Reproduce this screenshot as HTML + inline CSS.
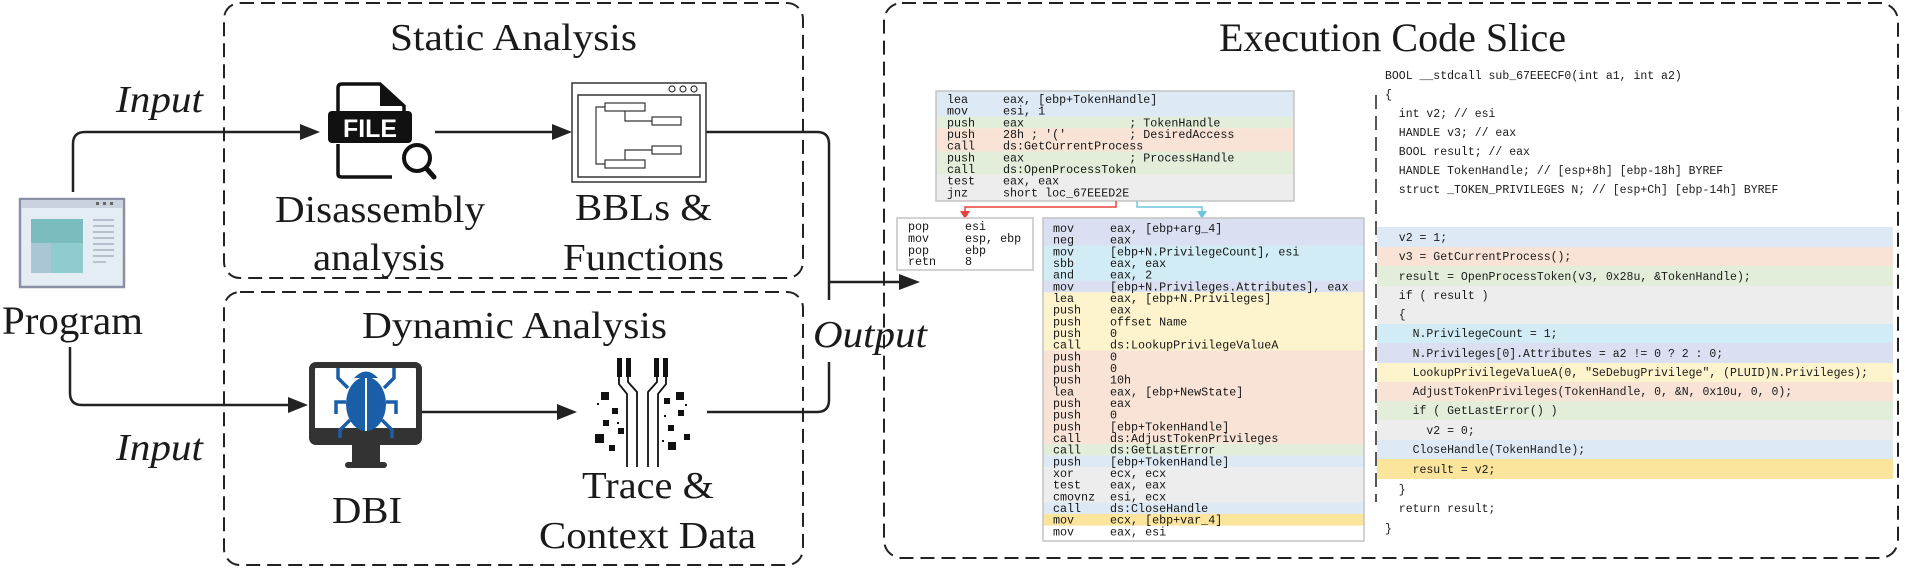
<!DOCTYPE html>
<html><head><meta charset="utf-8"><style>
html,body{margin:0;padding:0;background:#fff;}
svg{display:block;}
.s{font-family:"Liberation Serif",serif;fill:#1a1a1a;}
.m{font-family:"Liberation Mono",monospace;font-size:11.7px;fill:#151515;white-space:pre;}
.p{font-family:"Liberation Mono",monospace;font-size:11.5px;fill:#1a1a1a;white-space:pre;}
.m text,.p text{white-space:pre;}
</style></head><body>
<svg width="1906" height="571" viewBox="0 0 1906 571" xmlns="http://www.w3.org/2000/svg">
<g fill="none" stroke="#222" stroke-width="2" stroke-dasharray="14 7">
<rect x="224" y="3" width="579" height="275" rx="16"/>
<rect x="224" y="292" width="579" height="273" rx="16"/>
<rect x="884" y="3" width="1014" height="555" rx="18"/>
<line x1="1376" y1="95" x2="1376" y2="502" stroke-width="1.5"/>
</g>

<text class="s" x="390" y="50" font-size="38" textLength="247" lengthAdjust="spacingAndGlyphs">Static Analysis</text>
<text class="s" x="362" y="338" font-size="38" textLength="305" lengthAdjust="spacingAndGlyphs">Dynamic Analysis</text>
<text class="s" x="1219" y="51" font-size="40" textLength="347" lengthAdjust="spacingAndGlyphs">Execution Code Slice</text>

<text class="s" x="275" y="222" font-size="38" textLength="210" lengthAdjust="spacingAndGlyphs">Disassembly</text>
<text class="s" x="313" y="270" font-size="38" textLength="132" lengthAdjust="spacingAndGlyphs">analysis</text>
<text class="s" x="575" y="220" font-size="38" textLength="137" lengthAdjust="spacingAndGlyphs">BBLs &amp;</text>
<text class="s" x="563" y="270" font-size="38" textLength="161" lengthAdjust="spacingAndGlyphs">Functions</text>
<text class="s" x="332" y="523" font-size="38" textLength="70" lengthAdjust="spacingAndGlyphs">DBI</text>
<text class="s" x="582" y="498" font-size="38" textLength="132" lengthAdjust="spacingAndGlyphs">Trace &amp;</text>
<text class="s" x="539" y="548" font-size="38" textLength="217" lengthAdjust="spacingAndGlyphs">Context Data</text>
<text class="s" x="2" y="334" font-size="40" textLength="141" lengthAdjust="spacingAndGlyphs">Program</text>
<text class="s" x="116" y="112" font-size="38" font-style="italic" textLength="87" lengthAdjust="spacingAndGlyphs">Input</text>
<text class="s" x="116" y="460" font-size="38" font-style="italic" textLength="87" lengthAdjust="spacingAndGlyphs">Input</text>
<text class="s" x="813" y="347" font-size="38" font-style="italic" textLength="114" lengthAdjust="spacingAndGlyphs">Output</text>

<g fill="none" stroke="#222" stroke-width="2.5">
<path d="M73 192 V144 Q73 132 85 132 H302"/>
<path d="M70 347 V393 Q70 405 82 405 H290"/>
<line x1="435" y1="132" x2="554" y2="132"/>
<line x1="421" y1="412" x2="559" y2="412"/>
<path d="M706 132 H817 Q829 132 829 144 V300"/>
<path d="M707 412 H817 Q829 412 829 400 V362"/>
<line x1="829" y1="282" x2="902" y2="282"/>
</g>
<g fill="#222">
<polygon points="320,132 300,124 300,140"/>
<polygon points="308,405 288,397 288,413"/>
<polygon points="572,132 552,124 552,140"/>
<polygon points="577,412 557,404 557,420"/>
<polygon points="920,282 899,274 899,290"/>
</g>

<rect x="20" y="199" width="104" height="88" fill="#e4edf4" stroke="#8a90a6" stroke-width="2.5"/>
<rect x="21" y="200" width="102" height="8" fill="#c9d2de"/>
<rect x="96" y="202" width="3" height="3" fill="#666"/><rect x="103" y="202" width="3" height="3" fill="#666"/><rect x="110" y="202" width="3" height="3" fill="#666"/>
<rect x="31" y="219" width="52" height="54" fill="#8fcbcf"/>
<rect x="31" y="219" width="52" height="24" fill="#7bbcc1"/>
<rect x="31" y="243" width="20" height="30" fill="#a9c6d6"/>
<g stroke="#9aa4b4" stroke-width="1.2"><line x1="93" y1="220" x2="114" y2="220"/><line x1="93" y1="226" x2="114" y2="226"/><line x1="93" y1="232" x2="114" y2="232"/><line x1="93" y1="238" x2="114" y2="238"/><line x1="93" y1="244" x2="114" y2="244"/><line x1="93" y1="250" x2="114" y2="250"/><line x1="93" y1="256" x2="114" y2="256"/><line x1="93" y1="262" x2="106" y2="262"/></g>

<path d="M338 112 V88 Q338 84 342 84 H380 L404 106 V112" fill="none" stroke="#111" stroke-width="3.5"/>
<path d="M380 84 V106 H404 Z" fill="#111"/>
<path d="M338 144 V174 Q338 177 342 177 H392" fill="none" stroke="#111" stroke-width="3.5"/>
<rect x="328" y="111" width="84" height="32" rx="4" fill="#111"/>
<text x="343" y="137" font-family="Liberation Sans,sans-serif" font-weight="bold" font-size="25" fill="#fff" textLength="54" lengthAdjust="spacingAndGlyphs">FILE</text>
<circle cx="417" cy="158" r="13" fill="#fff" stroke="#111" stroke-width="4"/>
<line x1="426" y1="168" x2="434" y2="177" stroke="#111" stroke-width="5" stroke-linecap="round"/>

<rect x="572" y="83" width="134" height="99" fill="#fff" stroke="#333" stroke-width="1.5"/>
<rect x="578" y="95" width="122" height="82" fill="none" stroke="#333" stroke-width="1.5"/>
<g fill="none" stroke="#333" stroke-width="1.2">
<circle cx="672" cy="89" r="3"/><circle cx="683" cy="89" r="3"/><circle cx="694" cy="89" r="3"/>
<rect x="605" y="103" width="40" height="8"/><rect x="652" y="117" width="29" height="8"/>
<rect x="652" y="146" width="29" height="8"/><rect x="605" y="160" width="40" height="8"/>
<path d="M605 107 H596 V164 H605"/><path d="M625 111 V121 H652"/><path d="M625 160 V150 H652"/>
</g>

<rect x="312" y="365" width="107" height="77" rx="4" fill="#fff" stroke="#333" stroke-width="6"/>
<rect x="313" y="428" width="105" height="14" fill="#333"/>
<rect x="352" y="442" width="28" height="20" fill="#333"/>
<rect x="345" y="462" width="42" height="6" rx="3" fill="#333"/>
<g fill="#1b5ea8" stroke="#1b5ea8">
<ellipse cx="366" cy="404" rx="20" ry="27" stroke="none"/>
<path d="M354 378 Q366 365 378 378 Z" stroke="none"/>
<g fill="none" stroke-width="3.5">
<path d="M348 388 L338 378 V368"/><path d="M384 388 L394 378 V368"/>
<path d="M346 402 H336 V414"/><path d="M386 402 H396 V414"/>
<path d="M350 420 L340 430 V438"/><path d="M382 420 L392 430 V438"/>
</g>
</g>
<line x1="366" y1="378" x2="366" y2="431" stroke="#fff" stroke-width="2"/>

<g fill="#111"><rect x="617" y="358" width="5" height="19"/><rect x="626" y="358" width="5" height="19"/><rect x="654" y="358" width="5" height="19"/><rect x="663" y="358" width="5" height="19"/></g>
<g fill="none" stroke="#111" stroke-width="1.8">
<path d="M619 377 V384 L627 394 V467"/><path d="M628 377 V382 L637 392 V467"/>
<path d="M657 377 V382 L648 392 V467"/><path d="M666 377 V384 L658 394 V467"/>
</g>
<g fill="#111">
<rect x="601" y="392" width="8" height="8"/><rect x="612" y="408" width="6" height="6"/><rect x="603" y="420" width="6" height="6"/><rect x="618" y="428" width="6" height="6"/><rect x="595" y="434" width="9" height="9"/><rect x="609" y="445" width="6" height="6"/>
<rect x="676" y="392" width="8" height="8"/><rect x="664" y="398" width="6" height="6"/><rect x="678" y="410" width="6" height="6"/><rect x="668" y="425" width="6" height="6"/><rect x="684" y="434" width="6" height="6"/><rect x="668" y="442" width="8" height="8"/>
<rect x="597" y="403" width="2" height="2"/><rect x="617" y="422" width="2" height="2"/><rect x="664" y="415" width="2" height="2"/><rect x="685" y="404" width="2" height="2"/><rect x="662" y="440" width="2" height="2"/>
</g>

<rect x="936" y="91" width="358" height="25.5" fill="#dde9f5"/>
<rect x="936" y="116.5" width="358" height="11.7" fill="#e2eed9"/>
<rect x="936" y="128.2" width="358" height="23.3" fill="#f8e3d6"/>
<rect x="936" y="151.5" width="358" height="23.3" fill="#e2eed9"/>
<rect x="936" y="174.8" width="358" height="26.2" fill="#ededed"/>
<rect x="936" y="91" width="358" height="110" fill="none" stroke="#c4c4c4" stroke-width="1.5"/>
<g class="m">
<text x="947" y="103">lea</text><text x="1003" y="103">eax, [ebp+TokenHandle]</text>
<text x="947" y="114.7">mov</text><text x="1003" y="114.7">esi, 1</text>
<text x="947" y="126.3">push</text><text x="1003" y="126.3">eax               ; TokenHandle</text>
<text x="947" y="138">push</text><text x="1003" y="138">28h ; '('         ; DesiredAccess</text>
<text x="947" y="149.7">call</text><text x="1003" y="149.7">ds:GetCurrentProcess</text>
<text x="947" y="161.4">push</text><text x="1003" y="161.4">eax               ; ProcessHandle</text>
<text x="947" y="173">call</text><text x="1003" y="173">ds:OpenProcessToken</text>
<text x="947" y="184.7">test</text><text x="1003" y="184.7">eax, eax</text>
<text x="947" y="196.4">jnz</text><text x="1003" y="196.4">short loc_67EEED2E</text>
</g>

<path d="M1116 201 V207 H965 V213" fill="none" stroke="#e8403a" stroke-width="1.5"/>
<polygon points="965,219 960,211 970,211" fill="#e8403a"/>
<path d="M1137 201 V207 H1202 V213" fill="none" stroke="#6cc6de" stroke-width="1.5"/>
<polygon points="1202,219 1197,211 1207,211" fill="#6cc6de"/>

<rect x="897" y="218" width="136" height="52" fill="#fff" stroke="#c4c4c4" stroke-width="1.5"/>
<g class="m">
<text x="908" y="230">pop</text><text x="965" y="230">esi</text>
<text x="908" y="242">mov</text><text x="965" y="242">esp, ebp</text>
<text x="908" y="254">pop</text><text x="965" y="254">ebp</text>
<text x="908" y="265">retn</text><text x="965" y="265">8</text>
</g>

<rect x="1043" y="218" width="321" height="27.5" fill="#dae0f1"/>
<rect x="1043" y="245.5" width="321" height="35" fill="#d2ecf5"/>
<rect x="1043" y="280.5" width="321" height="11.7" fill="#dae0f1"/>
<rect x="1043" y="292.2" width="321" height="58.3" fill="#fdf3cd"/>
<rect x="1043" y="350.5" width="321" height="93.4" fill="#f8e3d6"/>
<rect x="1043" y="443.9" width="321" height="11.6" fill="#e2eed9"/>
<rect x="1043" y="455.5" width="321" height="11.7" fill="#dde9f5"/>
<rect x="1043" y="467.2" width="321" height="35" fill="#ededed"/>
<rect x="1043" y="502.2" width="321" height="11.7" fill="#dde9f5"/>
<rect x="1043" y="513.9" width="321" height="11.7" fill="#fbe49b"/>
<rect x="1043" y="218" width="321" height="323" fill="none" stroke="#c4c4c4" stroke-width="1.5"/>
<g class="m">
<text x="1053" y="232">mov</text><text x="1110" y="232">eax, [ebp+arg_4]</text>
<text x="1053" y="243.7">neg</text><text x="1110" y="243.7">eax</text>
<text x="1053" y="255.3">mov</text><text x="1110" y="255.3">[ebp+N.PrivilegeCount], esi</text>
<text x="1053" y="267">sbb</text><text x="1110" y="267">eax, eax</text>
<text x="1053" y="278.7">and</text><text x="1110" y="278.7">eax, 2</text>
<text x="1053" y="290.4">mov</text><text x="1110" y="290.4">[ebp+N.Privileges.Attributes], eax</text>
<text x="1053" y="302">lea</text><text x="1110" y="302">eax, [ebp+N.Privileges]</text>
<text x="1053" y="313.7">push</text><text x="1110" y="313.7">eax</text>
<text x="1053" y="325.4">push</text><text x="1110" y="325.4">offset Name</text>
<text x="1053" y="337">push</text><text x="1110" y="337">0</text>
<text x="1053" y="348.7">call</text><text x="1110" y="348.7">ds:LookupPrivilegeValueA</text>
<text x="1053" y="360.4">push</text><text x="1110" y="360.4">0</text>
<text x="1053" y="372">push</text><text x="1110" y="372">0</text>
<text x="1053" y="383.7">push</text><text x="1110" y="383.7">10h</text>
<text x="1053" y="395.4">lea</text><text x="1110" y="395.4">eax, [ebp+NewState]</text>
<text x="1053" y="407">push</text><text x="1110" y="407">eax</text>
<text x="1053" y="418.7">push</text><text x="1110" y="418.7">0</text>
<text x="1053" y="430.4">push</text><text x="1110" y="430.4">[ebp+TokenHandle]</text>
<text x="1053" y="442">call</text><text x="1110" y="442">ds:AdjustTokenPrivileges</text>
<text x="1053" y="453.7">call</text><text x="1110" y="453.7">ds:GetLastError</text>
<text x="1053" y="465.4">push</text><text x="1110" y="465.4">[ebp+TokenHandle]</text>
<text x="1053" y="477">xor</text><text x="1110" y="477">ecx, ecx</text>
<text x="1053" y="488.7">test</text><text x="1110" y="488.7">eax, eax</text>
<text x="1053" y="500.4">cmovnz</text><text x="1110" y="500.4">esi, ecx</text>
<text x="1053" y="512">call</text><text x="1110" y="512">ds:CloseHandle</text>
<text x="1053" y="523.7">mov</text><text x="1110" y="523.7">ecx, [ebp+var_4]</text>
<text x="1053" y="535.4">mov</text><text x="1110" y="535.4">eax, esi</text>
</g>

<rect x="1377" y="227" width="516" height="20" fill="#dde9f5"/>
<rect x="1377" y="247" width="516" height="19" fill="#f8e3d6"/>
<rect x="1377" y="266" width="516" height="20" fill="#e2eed9"/>
<rect x="1377" y="286" width="516" height="38" fill="#ededed"/>
<rect x="1377" y="324" width="516" height="19" fill="#d2ecf5"/>
<rect x="1377" y="343" width="516" height="20" fill="#dae0f1"/>
<rect x="1377" y="363" width="516" height="19" fill="#fdf3cd"/>
<rect x="1377" y="382" width="516" height="19" fill="#f8e3d6"/>
<rect x="1377" y="401" width="516" height="19" fill="#e2eed9"/>
<rect x="1377" y="420" width="516" height="20" fill="#ededed"/>
<rect x="1377" y="440" width="516" height="19" fill="#dde9f5"/>
<rect x="1377" y="459" width="516" height="20" fill="#fbe49b"/>
<g class="p">
<text x="1385" y="79">BOOL __stdcall sub_67EEECF0(int a1, int a2)</text>
<text x="1385" y="98">{</text>
<text x="1385" y="117">  int v2; // esi</text>
<text x="1385" y="136">  HANDLE v3; // eax</text>
<text x="1385" y="155">  BOOL result; // eax</text>
<text x="1385" y="174">  HANDLE TokenHandle; // [esp+8h] [ebp-18h] BYREF</text>
<text x="1385" y="193">  struct _TOKEN_PRIVILEGES N; // [esp+Ch] [ebp-14h] BYREF</text>
<text x="1385" y="241">  v2 = 1;</text>
<text x="1385" y="260">  v3 = GetCurrentProcess();</text>
<text x="1385" y="280">  result = OpenProcessToken(v3, 0x28u, &amp;TokenHandle);</text>
<text x="1385" y="299">  if ( result )</text>
<text x="1385" y="318">  {</text>
<text x="1385" y="337">    N.PrivilegeCount = 1;</text>
<text x="1385" y="357">    N.Privileges[0].Attributes = a2 != 0 ? 2 : 0;</text>
<text x="1385" y="376">    LookupPrivilegeValueA(0, "SeDebugPrivilege", (PLUID)N.Privileges);</text>
<text x="1385" y="395">    AdjustTokenPrivileges(TokenHandle, 0, &amp;N, 0x10u, 0, 0);</text>
<text x="1385" y="414">    if ( GetLastError() )</text>
<text x="1385" y="434">      v2 = 0;</text>
<text x="1385" y="453">    CloseHandle(TokenHandle);</text>
<text x="1385" y="473">    result = v2;</text>
<text x="1385" y="493">  }</text>
<text x="1385" y="512">  return result;</text>
<text x="1385" y="532">}</text>
</g>
</svg>
</body></html>
